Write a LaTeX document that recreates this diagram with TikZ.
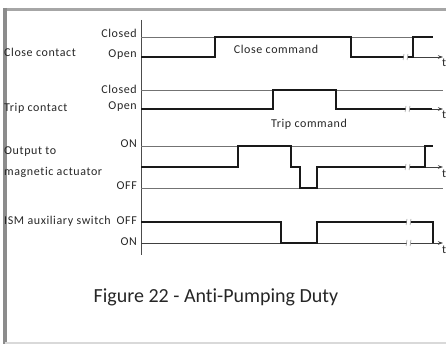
\documentclass[tikz,border=0pt]{standalone}
\usepackage{fontspec}
\setmainfont{Carlito}[Ligatures={NoCommon}]
\newfontfamily\lblfont[LetterSpace=5,Ligatures={NoCommon}]{Carlito}
\usetikzlibrary{arrows.meta}
\tikzset{
  lbl/.style={font=\lblfont\fontsize{12}{13}\selectfont, inner sep=0pt, text=black!85},
  lvl/.style={lbl, anchor=east},
  ref/.style={draw=black!55, line width=0.6pt},
  sig/.style={draw=black!90, line width=1.5pt, line join=miter},
  tax/.style={draw=black!75, line width=0.7pt, -{Stealth[length=5pt,width=3.5pt]}},
  brk/.style={draw=black!50, line width=0.5pt},
}
\newcommand{\brkmark}[2]{%
  \fill[white] (#1-1.5,#2-2.5) rectangle (#1+2.5,#2+2.5);
  \draw[brk] (#1-2,#2+3) -- (#1-1,#2-3);
  \draw[brk] (#1+2,#2+3) -- (#1+3,#2-3);
}
\begin{document}
\begin{tikzpicture}[x=1pt,y=-1pt]
\useasboundingbox (0,0) rectangle (446,344);
% frame
\draw[draw=black!35, line width=3pt] (3,9.5) -- (446,9.5);
\draw[draw=black!45, line width=4pt] (5,8) -- (5,344);
\draw[draw=black!15, line width=1.5pt] (5,343) -- (446,343);
% axis
\draw[draw=black!70, line width=0.8pt] (141,20) coordinate (axtop) -- (141,255) coordinate (axbot);

% Close contact
\node[lbl, anchor=west] (lcc) at (4,52) {Close contact};
\node[lvl] (lcc1) at (137,33) {Closed};
\node[lvl] (lcc0) at (137,55) {Open};
\draw[ref] (141,37) -- (413,37);
\draw[tax] (413,57) coordinate (cct) -- (443,57) coordinate (cce);
\draw[sig] (141,57) -- (215,57) -- (215,37) -- (351,37) -- (351,57) -- (413,57) -- (413,37) -- (433,37);
\brkmark{405}{57}
\node[lbl] (ccmd) at (276,49) {Close command};
\node[lbl, anchor=west] (t1) at (442,63) {t};

% Trip contact
\node[lbl, anchor=west] (ltc) at (4,108) {Trip contact};
\node[lvl] (ltc1) at (137,89) {Closed};
\node[lvl] (ltc0) at (137,107) {Open};
\draw[ref] (141,90) -- (443,90);
\draw[tax] (430,109) -- (443,109);
\draw[sig] (141,109) -- (273,109) -- (273,90) -- (336,90) -- (336,109) -- (432,109);
\brkmark{407}{109}
\node[lbl] (tcmd) at (309,124) {Trip command};
\node[lbl, anchor=west] (t2) at (442,115) {t};

% Output to magnetic actuator
\node[lbl, anchor=west] (lo1) at (4,152) {Output to};
\node[lbl, anchor=west] (lo2) at (4,172) {magnetic actuator};
\node[lvl] (lo3) at (137,144) {ON};
\node[lvl] (lo4) at (137,186) {OFF};
\draw[ref] (141,146) -- (425,146);
\draw[ref] (141,188) -- (443,188);
\draw[tax] (425,167) -- (443,167);
\draw[sig] (141,167) -- (238,167) -- (238,146) -- (291,146) -- (291,167) -- (300,167) -- (300,188) -- (317,188) -- (317,167) -- (425,167) -- (425,146) -- (433,146);
\brkmark{407}{167}
\node[lbl, anchor=west] (t3) at (442,174) {t};

% ISM auxiliary switch
\node[lbl, anchor=west] (li) at (4,221) {ISM auxiliary switch};
\node[lvl] (li1) at (137,221) {OFF};
\node[lvl] (li0) at (137,242) {ON};
\draw[tax] (141,243) -- (443,243);
\draw[sig] (141,222) -- (281,222) -- (281,243) -- (317,243) -- (317,222) -- (433,222) -- (433,243);
\brkmark{408}{222}
\brkmark{408}{243}
\node[lbl, anchor=west] (t4) at (442,250) {t};

% caption
\node[font=\fontsize{20}{24}\selectfont, text=black!85] (cap) at (216,297) {Figure 22 - Anti-Pumping Duty};
\end{tikzpicture}
\end{document}
